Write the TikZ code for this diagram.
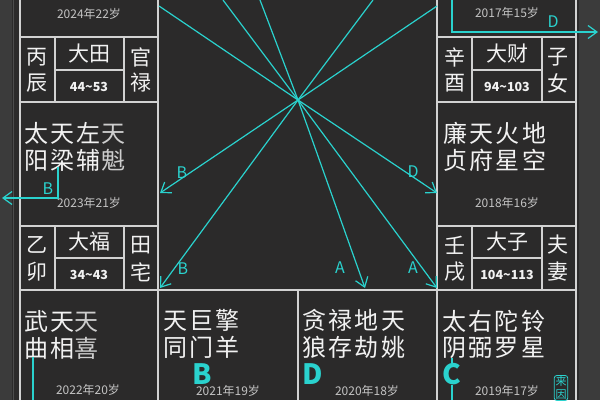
\documentclass[tikz,border=0pt]{standalone}
\usepackage{fontspec}
\usepackage{xcolor}
\usepackage{tikz}
\usetikzlibrary{positioning, arrows.meta, calc}
\setmainfont{Noto Sans CJK SC}
\newfontfamily\starfont[LetterSpace=10]{Noto Sans CJK SC}

\definecolor{chartbg}{HTML}{2B2A2A}
\definecolor{edgebg}{HTML}{3B3B3B}
\definecolor{gridline}{HTML}{D2D2D2}
\definecolor{star}{HTML}{F2F2F2}
\definecolor{minor}{HTML}{CDCDCD}
\definecolor{yeargray}{HTML}{C4C4C4}
\definecolor{hua}{HTML}{2AD2CE}

\def\palacegrid{%
    % outer cells, vertical lines
    \foreach \x in {20,158,437,576}
    {
        \draw[cellline] (\x, 0) -- (\x, 400);
    }
    \draw[cellline] (298, 290) -- (298, 400);

    % horizontal lines of the side columns
    \foreach \y in {37,102,226}
    {
        \draw[cellline] (20, \y) -- (158, \y);
        \draw[cellline] (437, \y) -- (576, \y);
    }
    \draw[cellline] (20, 290) -- (576, 290);

    % info rows
    \foreach \ya/\yb/\ym in {37/102/70, 226/290/258}
    {
        \draw[cellline] (55, \ya) -- (55, \yb);
        \draw[cellline] (124, \ya) -- (124, \yb);
        \draw[cellline] (55, \ym) -- (124, \ym);
        \draw[cellline] (472, \ya) -- (472, \yb);
        \draw[cellline] (542, \ya) -- (542, \yb);
        \draw[cellline] (472, \ym) -- (542, \ym);
    }
}

\begin{document}
\begin{tikzpicture}[x=1pt, y=-1pt,
    cellline/.style={gridline, line width=1.3pt},
    flow/.style={hua, line width=1.2pt},
    flowarrow/.style={flow, -{Straight Barb[length=9pt, width=13pt]}},
    startext/.style={star, anchor=west, inner sep=0, font=\starfont\fontsize{24}{24}\selectfont},
    ganzhi/.style={star, inner sep=0, font=\fontsize{21}{21}\selectfont},
    rangetext/.style={star, inner sep=0, font=\bfseries\fontsize{12.5}{12.5}\selectfont},
    yeartext/.style={yeargray, inner sep=0, font=\fontsize{12}{12}\selectfont},
    tag/.style={hua, inner sep=0, font=\fontsize{16}{16}\selectfont},
    bigtag/.style={hua, inner sep=0, font=\bfseries\fontsize{28}{28}\selectfont}]

    % background
    \fill[chartbg] (0, 0) rectangle (600, 400);
    \useasboundingbox (0, 0) rectangle (600, 400);
    \fill[edgebg] (0, 0) rectangle (12, 400);
    \draw[black!70, line width=1pt] (13, 0) -- (13, 400);
    \fill[edgebg] (579, 0) rectangle (600, 400);

    \palacegrid

    % info rows
    \foreach \n/\x/\y/\t in {
        gzA/37/57/丙, gzB/37/83/辰, gnA/141/57/官, gnB/141/83/禄,
        gzC/37/245/乙, gzD/37/272/卯, gnC/141/245/田, gnD/141/272/宅,
        gzE/455/57/辛, gzF/455/83/酉, gnE/558/57/子, gnF/558/83/女,
        gzG/455/245/壬, gzH/455/272/戌, gnG/558/245/夫, gnH/558/272/妻}
    {
        \node[ganzhi] (\n) at (\x, \y) {\t};
    }
    \foreach \n/\x/\y/\t in {
        dxA/89/54/大田, dxB/89/242/大福, dxC/507/54/大财, dxD/507/242/大子}
    {
        \node[ganzhi] (\n) at (\x, \y) {\t};
    }
    \foreach \n/\x/\y/\a/\b in {
        rgA/89/87/44/53, rgB/89/275/34/43, rgC/507/87/94/103, rgD/507/275/104/113}
    {
        \node[rangetext] (\n) at (\x, \y) {\a{\textasciitilde}\b};
    }

    % stars
    \foreach \n/\x/\y/\t in {
        stA/24/133/{太天左\textcolor{minor}{天}},
        stB/24/160/{阳梁辅\textcolor{minor}{魁}},
        stC/443/133/{廉天火地},
        stD/443/160/{贞府星空},
        stE/24/321/{武天\textcolor{minor}{天}},
        stF/24/348/{曲相\textcolor{minor}{喜}},
        stG/163/320/{天巨擎},
        stH/163/347/{同门羊},
        stI/302/320/{贪禄地天},
        stJ/302/347/{狼存劫姚},
        stK/442/321/{太右陀铃},
        stL/442/348/{阴弼罗星}}
    {
        \node[startext] (\n) at (\x, \y) {\t};
    }

    % years
    \foreach \n/\x/\y/\t in {
        yrA/89/14/2024年22岁, yrB/89/203/2023年21岁,
        yrC/507/13/2017年15岁, yrD/507/203/2018年16岁,
        yrE/88/390/2022年20岁, yrF/228/391/2021年19岁,
        yrG/367/391/2020年18岁, yrH/507/391/2019年17岁}
    {
        \node[yeartext] (\n) at (\x, \y) {\t};
    }

    % hua lines from the hub
    \coordinate (hub) at (298, 100);
    \foreach \x/\y in {159/6, 223/0, 260/0, 373/0, 437/6}
    {
        \draw[flow] (hub) -- (\x, \y);
    }
    \foreach \n/\x/\y/\lx/\ly/\t in {
        hA/160/193/182/173/B,
        hB/160/288/183/269/B,
        hC/365/288/340/268/A,
        hD/437/288/413/268/A,
        hE/437/193/413/172/D}
    {
        \coordinate (\n) at (\x, \y);
        \draw[flowarrow] (hub) -- (\n);
        \node[tag] (\n-tag) at (\lx, \ly) {\t};
    }

    % self hua on the edges
    \coordinate (lfA) at (58, 167);
    \coordinate (lfB) at (58, 198);
    \coordinate (lfC) at (2, 198);
    \draw[flowarrow] (lfA) -- (lfB) -- (lfC);
    \node[tag] (lf-tag) at (48, 189) {B};

    \coordinate (rtA) at (452, 0);
    \coordinate (rtB) at (452, 32);
    \coordinate (rtC) at (598, 32);
    \draw[flowarrow] (rtA) -- (rtB) -- (rtC);
    \node[tag] (rt-tag) at (553, 22) {D};

    \coordinate (blA) at (33, 357);
    \coordinate (blB) at (33, 400);
    \draw[flow] (blA) -- (blB);
    \coordinate (brA) at (452, 358);
    \coordinate (brB) at (452, 400);
    \draw[flow] (brA) -- (brB);

    % big marks
    \node[bigtag] (mkB) at (202, 374) {B};
    \node[bigtag] (mkD) at (313, 374) {D};
    \node[bigtag, fill=chartbg, inner sep=0.5pt] (mkC) at (452, 374) {C};

    \node[hua, draw, rounded corners=2.5pt, line width=0.8pt, inner sep=1.2pt, align=center,
        font=\fontsize{11}{12.5}\selectfont] (laiyin) at (561, 388) {来\\因};
\end{tikzpicture}
\end{document}
